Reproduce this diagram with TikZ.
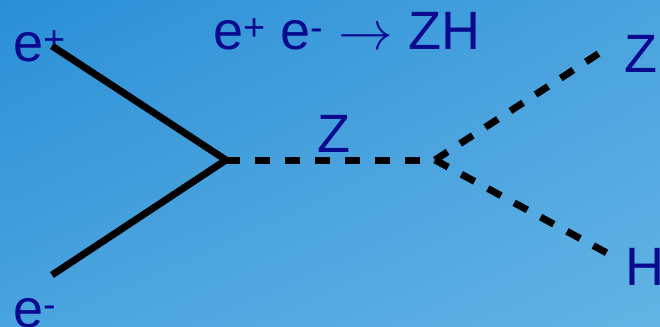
\documentclass[tikz,border=0pt]{standalone}
\usepackage{graphicx}
\usepackage{fontspec}
\setmainfont{Liberation Sans}
\usetikzlibrary{positioning, calc, shadings}

\definecolor{bgTop}{RGB}{43,143,214}
\definecolor{bgMid}{RGB}{73,163,222}
\definecolor{bgBottom}{RGB}{98,179,228}
\definecolor{labelBlue}{RGB}{10,10,143}

\begin{document}
\begin{tikzpicture}[
x=1pt, y=-1pt,
label/.style={
anchor=base west, inner sep=0pt,
text=labelBlue,
font=\fontsize{54}{60}\selectfont
},
fermion/.style={line width=7pt},
boson/.style={line width=7pt, dash pattern=on 15pt off 15pt}
]

% background
\useasboundingbox (0,0) rectangle (660,326);
\shade[upper left=bgTop, upper right=bgMid, lower left=bgMid, lower right=bgBottom]
(0,0) rectangle (660,326);

% vertices and free ends
\coordinate (vertexLeft) at (226,160);
\coordinate (vertexRight) at (435,160);
\coordinate (endPositron) at (52,46);
\coordinate (endElectron) at (52,275);
\coordinate (endZ) at (601,52);
\coordinate (endH) at (607,253);

% labels
\node[label] (title) at (213,50) {e\textsuperscript{+} e\textsuperscript{-} \scalebox{2.2}{$\rightarrow$} ZH};
\node[label] (positron) at (13,62) {e\textsuperscript{+}};
\node[label] (electron) at (13,327) {e\textsuperscript{-}};
\node[label] (zProp) at (317,152) {Z};
\node[label] (zOut) at (624,73) {Z};
\node[label] (hOut) at (625,285) {H};

% lines
\draw[fermion] (endPositron) -- (vertexLeft) -- (endElectron);
\draw[boson, dash phase=15pt] (vertexRight) -- (vertexLeft);
\draw[boson] (vertexRight) -- (endZ);
\draw[boson] (vertexRight) -- (endH);

\end{tikzpicture}
\end{document}
